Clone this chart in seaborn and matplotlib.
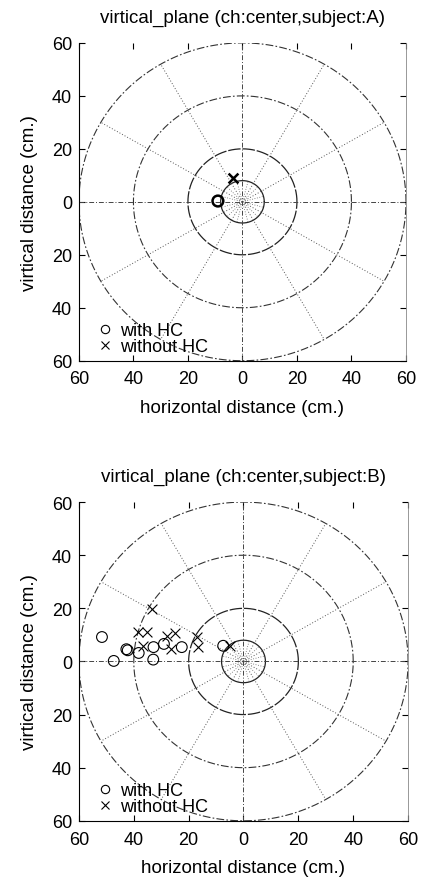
import numpy as np
import pandas as pd
import seaborn as sns
import matplotlib.pyplot as plt

# measured points (cm.), negative x = left side of the plot
a_with_x = [-9.0]
a_with_y = [0.3]
a_without_x = [-3.5]
a_without_y = [9.0]

b_with_x = [-51.6, -47.3, -42.7, -42.2, -38.2, -32.8, -32.9, -29.0, -22.5, -7.4]
b_with_y = [9.2, 0.2, 4.6, 4.2, 3.2, 5.4, 0.7, 6.6, 5.4, 5.9]
b_without_x = [-33.2, -38.4, -35.2, -36.6, -27.8, -24.8, -26.3, -16.8, -16.5, -4.8]
b_without_y = [19.8, 11.2, 11.2, 6.0, 9.4, 10.9, 4.8, 9.3, 5.5, 5.7]

ring_radii = [8, 20, 40, 60]
tick_vals = [-60, -40, -20, 0, 20, 40, 60]
tick_text = ["60", "40", "20", "0", "20", "40", "60"]

sns.set_style("ticks")
plt.rcParams["font.family"] = ["Liberation Sans", "DejaVu Sans"]
plt.rcParams["text.color"] = "black"
plt.rcParams["axes.labelcolor"] = "black"
plt.rcParams["xtick.color"] = "black"
plt.rcParams["ytick.color"] = "black"
plt.rcParams["axes.edgecolor"] = "black"


def draw_target(ax):
    t = np.linspace(0, 2 * np.pi, 400)
    dashdot = (0, (7, 2, 1.5, 2))
    styles = {8: ("-", 0.9, "#222222"), 20: ((0, (10, 1.5)), 0.9, "#222222"),
              40: (dashdot, 0.8, "#333333"), 60: (dashdot, 0.8, "#333333")}
    for r in ring_radii:
        ls, lw, c = styles[r]
        ax.plot(r * np.cos(t), r * np.sin(t), ls=ls, lw=lw, color=c, zorder=1)
    # spokes every 30 degrees out to the outer ring
    for ang in np.deg2rad(np.arange(0, 360, 30)):
        if np.isclose(ang % (np.pi / 2), 0):
            continue
        ax.plot([0, 60 * np.cos(ang)], [0, 60 * np.sin(ang)], ls=(0, (1, 2)),
                lw=0.7, color="#555555", zorder=1)
    # finer spokes inside the inner ring
    for ang in np.deg2rad(np.arange(15, 360, 30)):
        ax.plot([0, 8 * np.cos(ang)], [0, 8 * np.sin(ang)], ls=(0, (1, 2)),
                lw=0.6, color="#666666", zorder=1)
    ax.axhline(0, ls=(0, (5, 2, 1, 2)), lw=0.7, color="#444444", zorder=1)
    ax.axvline(0, ls=(0, (5, 2, 1, 2)), lw=0.7, color="#444444", zorder=1)


def panel(ax, subject, wx, wy, ox, oy, lw):
    draw_target(ax)
    d_with = pd.DataFrame({"x": wx, "y": wy})
    d_without = pd.DataFrame({"x": ox, "y": oy})
    sns.scatterplot(data=d_with, x="x", y="y", ax=ax, marker="o", s=60,
                    facecolor="none", edgecolor="black", linewidth=lw, zorder=3)
    sns.scatterplot(data=d_without, x="x", y="y", ax=ax, marker="x", s=50,
                    color="black", linewidth=lw, zorder=3)
    ax.set_xlim(-60, 60)
    ax.set_ylim(-60, 60)
    ax.set_xticks(tick_vals)
    ax.set_xticklabels(tick_text)
    ax.set_yticks(tick_vals)
    ax.set_yticklabels(tick_text)
    ax.tick_params(direction="in", top=True, right=True, length=4, width=0.8,
                   labelsize=13, pad=5)
    ax.tick_params(axis="x", pad=7)
    ax.spines["top"].set_visible(False)
    ax.spines["right"].set_color("#888888")
    ax.spines["right"].set_linewidth(0.6)
    for s in ["left", "bottom"]:
        ax.spines[s].set_linewidth(0.8)
    ax.set_title(f"virtical_plane (ch:center,subject:{subject})", fontsize=13.5, pad=15)
    ax.set_xlabel("horizontal distance (cm.)", fontsize=13.5, labelpad=8)
    ax.set_ylabel("virtical distance (cm.)", fontsize=13.5, labelpad=10)
    h1 = plt.Line2D([], [], ls="none", marker="o", mfc="none", mec="black", ms=6, mew=0.8)
    h2 = plt.Line2D([], [], ls="none", marker="x", color="black", ms=6, mew=0.8)
    ax.legend([h1, h2], ["with HC", "without HC"], loc="lower left",
              bbox_to_anchor=(0.03, 0.0), frameon=False,
              fontsize=13, handletextpad=0.25, labelspacing=-0.05, borderaxespad=0.1,
              handlelength=1.2, borderpad=0.2)


fig = plt.figure(figsize=(4.22, 8.78), dpi=100)
ax1 = fig.add_axes([0.187, 0.588, 0.775, 0.362])
ax2 = fig.add_axes([0.187, 0.064, 0.780, 0.363])

panel(ax1, "A", a_with_x, a_with_y, a_without_x, a_without_y, 1.8)
panel(ax2, "B", b_with_x, b_with_y, b_without_x, b_without_y, 0.8)

fig.savefig("out.png", dpi=100)
